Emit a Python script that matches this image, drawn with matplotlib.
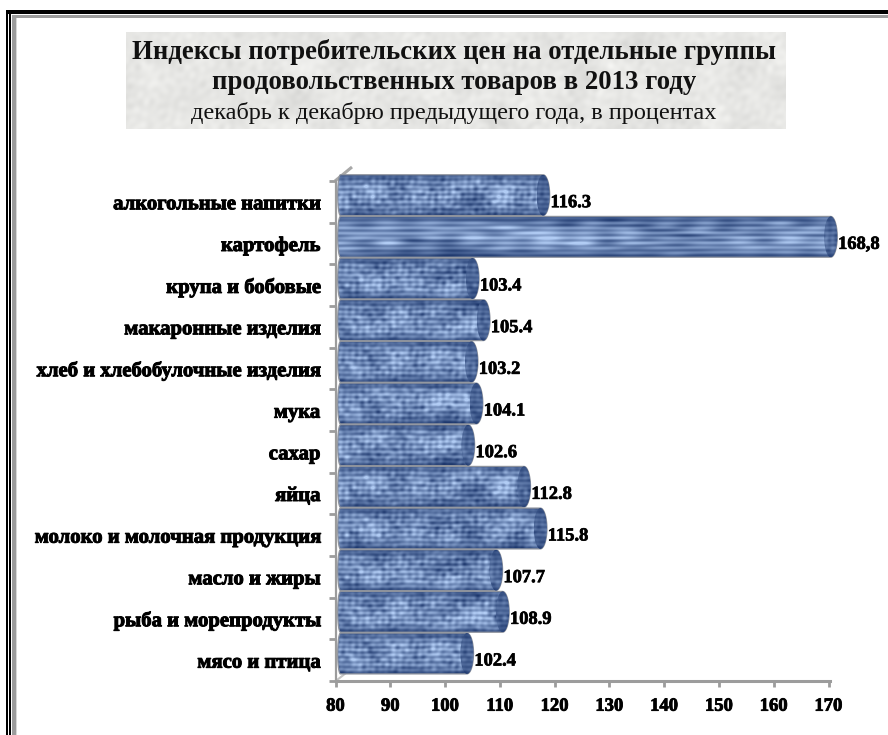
import matplotlib
matplotlib.use("Agg")
import matplotlib.pyplot as plt
import matplotlib.patheffects as pe
from matplotlib.patches import Ellipse, Polygon, Rectangle
import numpy as np

plt.rcParams["font.family"] = ["Liberation Serif", "DejaVu Serif"]

categories = ["мясо и птица", "рыба и морепродукты", "масло и жиры",
              "молоко и молочная продукция", "яйца", "сахар", "мука",
              "хлеб и хлебобулочные изделия", "макаронные изделия",
              "крупа и бобовые", "картофель", "алкогольные напитки"]
values = [102.4, 108.9, 107.7, 115.8, 112.8, 102.6, 104.1, 103.2, 105.4, 103.4, 168.8, 116.3]
value_labels = ["102.4", "108.9", "107.7", "115.8", "112.8", "102.6", "104.1",
                "103.2", "105.4", "103.4", "168,8", "116.3"]
x_ticks = [80, 90, 100, 110, 120, 130, 140, 150, 160, 170]

title_lines = ["Индексы потребительских цен на отдельные группы",
               "продовольственных товаров в 2013 году"]
subtitle = "декабрь к декабрю предыдущего года, в процентах"

W, H = 888, 735
GREY = "#9c9c9c"
DEPTH = 2.8     # 3d offset of the bar ends, in x units
LIFT = 0.16     # bars sit above their row, in y units
CAP = 1.2       # half width of the end ellipse, in x units
BAR_H = 0.98


def mottle(u, v, k, n=26, shift=0.0):
    """Irregular pattern from many crossing waves, roughly in -1..1."""
    out = np.zeros_like(u, dtype=float)
    for i in range(1, n + 1):
        a = i * 2.39996
        f = k * (0.6 + 0.8 * ((i * 0.618034) % 1))
        out += np.sin(f * (u * np.cos(a) + v * np.sin(a)) + i * 1.7 + shift)
    return out / np.sqrt(n / 2) / 1.6


def weave(w, h, stretch=1.0, shift=0.0, dark=False):
    """Blue cloth texture for the cylinders, darkened towards top and bottom."""
    u, v = np.meshgrid(np.arange(w) / stretch, np.arange(h))
    t = 0.56 + 0.17 * mottle(u, v, 0.16, shift=shift) + 0.12 * mottle(u, v, 0.75, shift=shift)
    t = t + 0.13 * np.sin(v * 1.25 + 0.5 * mottle(u, v, 0.1, n=8, shift=shift))
    t = t + 0.05 * np.sin(u * 0.95)
    s = np.abs(np.linspace(-1, 1, h))[:, None]
    t = t * (1.08 - 0.7 * s ** 3.5)
    if dark:
        t = t * 0.58
    t = np.clip(t, 0, 1)[..., None]
    low = np.array([24, 50, 104]) / 255
    high = np.array([178, 205, 245]) / 255
    return low + (high - low) * t


def paper(w, h):
    """Mottled light grey background of the title."""
    u, v = np.meshgrid(np.arange(w), np.arange(h))
    t = 0.905 + 0.02 * mottle(u, v, 0.12) + 0.014 * mottle(u, v, 0.55)
    return np.clip(np.dstack([t, t, t * 0.99]), 0, 1)


def draw_bar(ax, y, value, idx):
    x0, x1 = 80.4, value + DEPTH
    yc = y + LIFT
    top, bot = yc + BAR_H / 2, yc - BAR_H / 2
    th = np.linspace(-np.pi / 2, np.pi / 2, 40)
    right = np.c_[x1 - CAP + CAP * np.cos(th), yc + BAR_H / 2 * np.sin(th)]
    left = np.c_[x0 + 0.5 - 0.5 * np.cos(th), yc + BAR_H / 2 * np.sin(th[::-1])]
    outline = Polygon(np.r_[right, left], closed=True, transform=ax.transData,
                      fc="none", ec="#8d929c", lw=0.9, zorder=4)
    ax.add_patch(outline)
    w = int((x1 - x0) * 5.48)
    stretch = 6.0 if value > 150 else 1.0
    im = ax.imshow(weave(w, 41, stretch, shift=idx * 0.9), extent=(x0, x1, bot, top),
                   aspect="auto", zorder=3, interpolation="bilinear")
    im.set_clip_path(outline)
    cap = Ellipse((x1 - CAP, yc), 2 * CAP, BAR_H, fc="none", ec="none", zorder=5)
    ax.add_patch(cap)
    im2 = ax.imshow(weave(14, 41, 1.0, shift=idx * 2.3, dark=True),
                    extent=(x1 - 2 * CAP, x1, bot, top), aspect="auto", zorder=4,
                    interpolation="bilinear")
    im2.set_clip_path(cap)


fig = plt.figure(figsize=(W / 100, H / 100), dpi=100, facecolor="white")

# background layer in pixel coordinates: frame and title block
bg = fig.add_axes([0, 0, 1, 1])
bg.set_xlim(0, W)
bg.set_ylim(H, 0)
bg.axis("off")
bg.add_patch(Rectangle((6, 10), 2, H - 10, fc="black", ec="none"))
bg.add_patch(Rectangle((9, 12), 2, H - 12, fc="black", ec="none"))
bg.add_patch(Rectangle((12, 15), 3.5, H - 15, fc=GREY, ec="none"))
bg.add_patch(Rectangle((15.5, 17), 1, H - 17, fc="#d8d8d8", ec="none"))
bg.add_patch(Rectangle((6, 10), W - 6, 4, fc="black", ec="none"))
bg.add_patch(Rectangle((12, 15), W - 12, 2.5, fc=GREY, ec="none"))
bg.add_patch(Rectangle((15.5, 17.5), W - 15.5, 0.8, fc="#d8d8d8", ec="none"))
bg.imshow(paper(659, 97), extent=(126, 785, 129, 32), aspect="auto")
bg.set_xlim(0, W)
bg.set_ylim(H, 0)
bg.text(454, 52, title_lines[0], ha="center", va="center", fontsize=19.3, fontweight="bold", color="#111111")
bg.text(454.5, 82, title_lines[1], ha="center", va="center", fontsize=19.3, fontweight="bold", color="#111111")
bg.text(454, 113, subtitle, ha="center", va="center", fontsize=17.45, color="#111111")
bg.plot([335, 352], [181, 167], color="#a8a8a8", lw=2.2, solid_capstyle="butt")
bg.plot([337, 346], [680, 673], color="#c4c4c4", lw=1.5, solid_capstyle="butt")

# chart layer
px_unit = (828.5 - 335.5) / 90
row = (681 - 181) / 12
ax = fig.add_axes([335.5 / W, (H - 681) / H, 94 * px_unit / W, (681 - 160) / H])
ax.patch.set_alpha(0)
for i, (v, lab) in enumerate(zip(values, value_labels)):
    draw_bar(ax, i, v, i)
    ax.text(v + DEPTH + 0.15, i - 0.02, lab, ha="left", va="center", fontsize=13.3,
            fontweight="bold", clip_on=False, zorder=6,
            path_effects=[pe.withStroke(linewidth=0.5, foreground="black")])

ax.set_xlim(80, 174)
ax.set_ylim(-0.5, 11.5 + 21 / row)
for s in ["top", "right"]:
    ax.spines[s].set_visible(False)
ax.spines["left"].set_color(GREY)
ax.spines["bottom"].set_color(GREY)
ax.spines["left"].set_linewidth(1.6)
ax.spines["bottom"].set_linewidth(2.2)
ax.spines["left"].set_bounds(-0.5, 11.5)
ax.spines["bottom"].set_bounds(80, 170.3)

ax.set_xticks(x_ticks)
ax.set_xticklabels([str(t) for t in x_ticks], fontsize=13.4, fontweight="bold",
                   path_effects=[pe.withStroke(linewidth=0.6, foreground="black")])
ax.tick_params(axis="x", length=4, width=2, color=GREY, pad=8)
ax.set_yticks(range(len(categories)))
ax.set_yticklabels(categories, fontsize=14.9, fontweight="bold",
                   path_effects=[pe.withStroke(linewidth=0.7, foreground="black")])
ax.tick_params(axis="y", which="major", length=0, pad=11)
ax.set_yticks(np.arange(-0.5, 11.6, 1), minor=True)
ax.tick_params(axis="y", which="minor", length=5, width=2, color=GREY)

fig.savefig("out.png", dpi=100)
